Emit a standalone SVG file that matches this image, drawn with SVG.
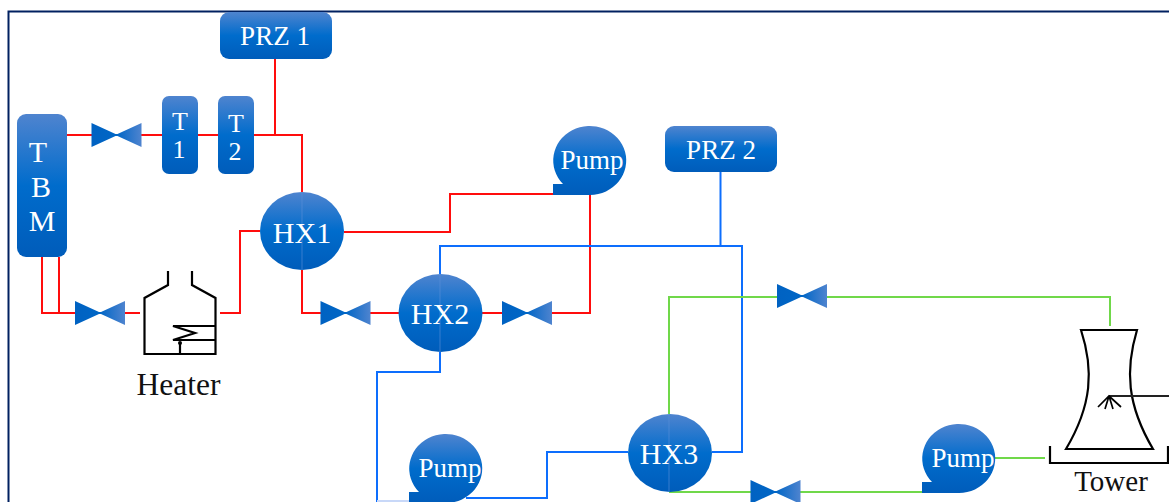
<svg xmlns="http://www.w3.org/2000/svg" width="1169" height="502" viewBox="0 0 1169 502">
<defs>
<linearGradient id="g" x1="0" y1="0" x2="0" y2="1"><stop offset="0" stop-color="#4f84cf"/><stop offset="0.5" stop-color="#006ccc"/><stop offset="1" stop-color="#005cba"/></linearGradient>
<linearGradient id="v" x1="0" y1="0" x2="1" y2="0"><stop offset="0" stop-color="#0062c2"/><stop offset="0.5" stop-color="#0066c6"/><stop offset="1" stop-color="#4f84cf"/></linearGradient>
<path id="valve" d="M-25,-12 L-1,-1 H1 L25,-12 V12 L1,1 H-1 L-25,12 Z" fill="url(#v)"/>
</defs>
<style>
.f{fill:url(#g)}
.t{font-family:"Liberation Serif","Times New Roman",serif;fill:#fff;text-anchor:middle}
.k{font-family:"Liberation Serif","Times New Roman",serif;fill:#111;text-anchor:middle}
.r,.b,.gr,.s,.seam{fill:none}
.r{stroke:#ff0d0d;stroke-width:2}
.b{stroke:#0d6efd;stroke-width:2}
.gr{stroke:#70d84a;stroke-width:2}
.s{stroke:#000;stroke-width:2.2}
.seam{stroke:#5a8fd8;stroke-width:1;opacity:.6}
</style>
<path d="M1169,11.500 H8.500 V502" fill="none" stroke="#002060" stroke-width="2"/>
<g id="connectors">
<path class="r" d="M67,135 H92 M141,135 H162 M198,135 H218 M254,135 H302 V192 M275,59 V135"/>
<path class="r" d="M260,231 H240 V313 H220"/>
<path class="r" d="M42,257 V313 H75 M59,257 V313 M124,313 H140"/>
<path class="r" d="M302,270 V313 H321 M370,313 H399 M482,313 H502 M552,313 H590 V195"/>
<path class="r" d="M344,232 H450 V194 H555"/>
<path class="b" d="M720.500,172 V247"/>
<path class="b" d="M440,274 V246 H742 V452 H712"/>
<path class="b" d="M440,352 V372 H377 V502"/>
<path class="b" d="M466,498 H547 V452 H628"/>
<path d="M377,501 H409" stroke="#c8d8f8" stroke-width="2" fill="none"/>
<path class="gr" d="M669,414 V297 H777 M827,297 H1110 V326"/>
<path class="gr" d="M669,492 H751 M800,492 H922 M995,458 H1045"/>
</g>
<g id="tbm"><rect class="f" x="17" y="114" width="50" height="143" rx="9"/><text class="t" font-size="30" x="38" y="162">T</text><text class="t" font-size="30" x="41" y="197">B</text><text class="t" font-size="30" x="42" y="231">M</text></g>
<g id="prz1"><rect class="f" x="220" y="12" width="112" height="47" rx="9"/><text class="t" font-size="27" x="275" y="45">PRZ 1</text></g>
<g id="t1"><rect class="f" x="162" y="96" width="36" height="78" rx="7"/><text class="t" font-size="26" x="180" y="130">T</text><text class="t" font-size="26" x="179" y="158">1</text></g>
<g id="t2"><rect class="f" x="218" y="96" width="36" height="78" rx="7"/><text class="t" font-size="26" x="236" y="132">T</text><text class="t" font-size="26" x="235" y="160">2</text></g>
<g id="hx1"><ellipse class="f" cx="302" cy="231" rx="42" ry="39"/><path class="seam" d="M302,192 V270"/><text class="t" font-size="30" x="302" y="243">HX1</text></g>
<g id="hx2"><ellipse class="f" cx="440.500" cy="313" rx="42" ry="39"/><path class="seam" d="M440,274 V352"/><text class="t" font-size="30" x="440" y="324">HX2</text></g>
<g id="hx3"><ellipse class="f" cx="670" cy="453" rx="42" ry="39"/><path class="seam" d="M669,414 V492"/><text class="t" font-size="30" x="669" y="464">HX3</text></g>
<g id="pump1"><path class="f" d="M553,195 V184 H563 A36.500,34.500 0 1 1 590,195 Z"/><text class="t" font-size="27" x="592" y="169">Pump</text></g>
<g id="pump2"><path class="f" d="M409,503 V492 H419 A36.500,34.500 0 1 1 446,503 Z"/><text class="t" font-size="27" x="450" y="477">Pump</text></g>
<g id="pump3"><path class="f" d="M922,493 V482 H932 A36.500,34.500 0 1 1 959,493 Z"/><text class="t" font-size="27" x="963" y="467">Pump</text></g>
<g id="prz2"><rect class="f" x="665" y="126" width="112" height="46" rx="9"/><text class="t" font-size="27" x="721" y="159">PRZ 2</text></g>
<g id="valve1"><use href="#valve" x="116.500" y="135"/></g>
<g id="valve2"><use href="#valve" x="100" y="313"/></g>
<g id="valve3"><use href="#valve" x="345.500" y="313"/></g>
<g id="valve4"><use href="#valve" x="527" y="313"/></g>
<g id="valve5"><use href="#valve" x="802" y="296"/></g>
<g id="valve6"><use href="#valve" x="775.500" y="492"/></g>
<g id="heater">
<path class="s" d="M168,271 V285 L144.500,298 V354 H215.500 V298 L192,285 V271"/>
<path class="s" d="M215.500,326 H173 L195,333 L173,340 H215.500 M180,354 V343"/>
<circle cx="180" cy="343" r="2" fill="#000"/>
<text class="k" font-size="31.500" x="178.500" y="395">Heater</text>
</g>
<g id="tower">
<path class="s" d="M1081,330 H1137 C1125,370 1127,405 1153,449 H1066 C1092,405 1094,370 1081,330 Z"/>
<path class="s" d="M1050,446 V463 H1168 V446"/>
<path d="M1169,396 H1109" stroke="#222" stroke-width="1.800" fill="none"/>
<path class="s" style="stroke-width:1.700" d="M1098,407 L1109,396 L1121,407 M1109,396 L1105,409 M1109,396 L1113,409"/>
<text class="k" font-size="29" x="1111" y="491">Tower</text>
</g>
</svg>
